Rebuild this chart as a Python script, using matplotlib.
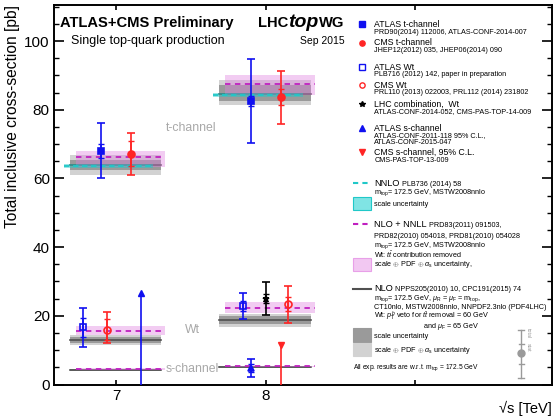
import matplotlib
matplotlib.use("Agg")
import matplotlib.pyplot as plt
from matplotlib.lines import Line2D
from matplotlib.patches import Rectangle
from matplotlib.ticker import MultipleLocator

plt.rcParams['font.family'] = ['Liberation Sans', 'DejaVu Sans']
plt.rcParams['mathtext.fontset'] = 'custom'
plt.rcParams['mathtext.rm'] = 'Liberation Sans'
plt.rcParams['mathtext.it'] = 'Liberation Sans:italic'
plt.rcParams['mathtext.bf'] = 'Liberation Sans:bold'

energies = [7, 8]

# t-channel measurements (pb)
atlas_t = [68.0, 82.5]
atlas_t_stat = [2.0, 1.5]
atlas_t_tot = [8.0, 12.2]
cms_t = [67.2, 83.6]
cms_t_stat = [3.7, 2.3]
cms_t_tot = [6.1, 7.7]

# Wt measurements
atlas_wt = [16.6, 22.8]
atlas_wt_stat = [2.9, 1.5]
atlas_wt_tot = [5.7, 3.8]
cms_wt = [16.0, 23.4]
cms_wt_stat = [3.0, 2.0]
cms_wt_up = [5.0, 5.4]
cms_wt_dn = [4.0, 5.4]
lhc_wt_8 = 25.0
lhc_wt_8_stat = 1.4
lhc_wt_8_tot = 4.7

# s-channel
atlas_s_limit_7 = 26.5
atlas_s_8 = 4.8
atlas_s_8_stat = 1.2
atlas_s_8_tot = 2.5
cms_s_limit_8 = 11.5

# theory: NNLO (t-channel only)
nnlo_t = [63.6, 84.3]
nnlo_t_scale = [0.6, 0.7]

# theory: NLO+NNLL, central / low / high
nnll_t = [66.2, 87.6]
nnll_t_lo = [63.4, 84.4]
nnll_t_hi = [68.0, 90.1]
nnll_wt = [15.5, 22.2]
nnll_wt_lo = [14.3, 20.8]
nnll_wt_hi = [16.9, 23.9]
nnll_s = [4.5, 5.3]
nnll_s_lo = [4.3, 5.1]
nnll_s_hi = [4.7, 5.5]

# theory: NLO, central / scale band / total band
nlo_t = [63.8, 84.5]
nlo_t_scale_lo = [62.4, 82.5]
nlo_t_scale_hi = [65.5, 87.2]
nlo_t_tot_lo = [61.0, 81.3]
nlo_t_tot_hi = [66.8, 88.6]
nlo_wt = [13.0, 18.7]
nlo_wt_scale_lo = [12.2, 17.6]
nlo_wt_scale_hi = [13.8, 19.8]
nlo_wt_tot_lo = [11.5, 16.7]
nlo_wt_tot_hi = [14.4, 20.6]
nlo_s = [4.2, 5.05]
nlo_s_scale_lo = [4.0, 4.85]
nlo_s_scale_hi = [4.4, 5.25]
nlo_s_tot_lo = [3.85, 4.7]
nlo_s_tot_hi = [4.55, 5.4]

BLUE = '#1010f0'
RED = '#ff2525'
CYAN = '#20c8c8'
MAGENTA = '#c020c0'
PINK = '#e080e0'
GRAYTXT = '#a8a8a8'

W, H = 553, 416


def fx(px):
    return px / W


def fy(py):
    return 1 - py / H


fig = plt.figure(figsize=(W / 100, H / 100), dpi=100)
ax = fig.add_axes([fx(54), fy(384.5), (551.7 - 54) / W, (384.5 - 5) / H])
ax.set_xlim(6.586, 9.91)
ax.set_ylim(0, 110.5)

# theory bands
for i, e in enumerate(energies):
    for lo, hi, slo, shi, c in [(nlo_t_tot_lo, nlo_t_tot_hi, nlo_t_scale_lo, nlo_t_scale_hi, nlo_t),
                                (nlo_wt_tot_lo, nlo_wt_tot_hi, nlo_wt_scale_lo, nlo_wt_scale_hi, nlo_wt),
                                (nlo_s_tot_lo, nlo_s_tot_hi, nlo_s_scale_lo, nlo_s_scale_hi, nlo_s)]:
        ax.fill_between([e - 0.31, e + 0.30], lo[i], hi[i], color='#d2d2d2', lw=0, zorder=1)
        ax.fill_between([e - 0.31, e + 0.30], slo[i], shi[i], color='#9a9a9a', lw=0, zorder=1.1)
        ax.plot([e - 0.31, e + 0.30], [c[i], c[i]], color='#505050', lw=1.2, zorder=1.2)
    for lo, hi, c in [(nnll_t_lo, nnll_t_hi, nnll_t), (nnll_wt_lo, nnll_wt_hi, nnll_wt),
                      (nnll_s_lo, nnll_s_hi, nnll_s)]:
        ax.fill_between([e - 0.27, e + 0.33], lo[i], hi[i], color=PINK, alpha=0.4, lw=0, zorder=1.3)
        ax.plot([e - 0.27, e + 0.33], [c[i], c[i]], color=MAGENTA, lw=1.3, dashes=(3, 2.5), zorder=1.4)
    ax.fill_between([e - 0.35, e + 0.25], nnlo_t[i] - nnlo_t_scale[i], nnlo_t[i] + nnlo_t_scale[i],
                    color=CYAN, alpha=0.45, lw=0, zorder=1.5)
    ax.plot([e - 0.35, e + 0.25], [nnlo_t[i], nnlo_t[i]], color=CYAN, lw=1.3, dashes=(3, 2), zorder=1.6)


def meas(x, y, stat, tot, color, marker, filled=True, tot_dn=None):
    dn = tot if tot_dn is None else tot_dn
    mfc = color if filled else 'none'
    ax.errorbar(x, y, yerr=[[dn], [tot]], fmt='none', ecolor=color, elinewidth=1.2,
                capsize=3, capthick=1.2, zorder=3)
    ax.errorbar(x, y, yerr=stat, fmt='none', ecolor=color, elinewidth=1.2,
                capsize=2.5, capthick=1.0, zorder=3)
    ax.plot(x, y, marker=marker, color=color, mfc=mfc, mec=color, mew=1.2, ms=5, ls='none', zorder=4)


# measurements
for i, e in enumerate(energies):
    meas(e - 0.10, atlas_t[i], atlas_t_stat[i], atlas_t_tot[i], BLUE, 's')
    meas(e + 0.10, cms_t[i], cms_t_stat[i], cms_t_tot[i], RED, 'o')

meas(6.78, atlas_wt[0], atlas_wt_stat[0], atlas_wt_tot[0], BLUE, 's', filled=False)
meas(6.94, cms_wt[0], cms_wt_stat[0], cms_wt_up[0], RED, 'o', filled=False, tot_dn=cms_wt_dn[0])
meas(7.85, atlas_wt[1], atlas_wt_stat[1], atlas_wt_tot[1], BLUE, 's', filled=False)
meas(8.15, cms_wt[1], cms_wt_stat[1], cms_wt_up[1], RED, 'o', filled=False, tot_dn=cms_wt_dn[1])
meas(8.00, lhc_wt_8, lhc_wt_8_stat, lhc_wt_8_tot, 'black', '*')
meas(7.90, atlas_s_8, atlas_s_8_stat, atlas_s_8_tot, BLUE, '^')

# s-channel upper limits
ax.plot([7.17, 7.17], [0, atlas_s_limit_7], color=BLUE, lw=1.2, zorder=3)
ax.plot(7.17, atlas_s_limit_7, marker='^', color=BLUE, ms=4, zorder=4)
ax.plot([8.10, 8.10], [0, cms_s_limit_8], color=RED, lw=1.2, zorder=3)
ax.plot(8.10, cms_s_limit_8, marker='v', color=RED, ms=4, zorder=4)

# channel labels
ax.text(7.33, 74.7, 't-channel', color=GRAYTXT, fontsize=8.8, va='center')
ax.text(7.46, 15.9, 'Wt', color=GRAYTXT, fontsize=8.8, va='center')
ax.text(7.33, 4.6, 's-channel', color=GRAYTXT, fontsize=8.8, va='center')

# axes styling
ax.set_xticks([7, 8, 9])
ax.set_xticklabels(['7', '8', ''])
ax.yaxis.set_major_locator(MultipleLocator(20))
ax.yaxis.set_minor_locator(MultipleLocator(5))
ax.tick_params(axis='x', direction='in', top=True, length=3.5, width=1.2, labelsize=11, pad=3)
ax.tick_params(axis='y', which='major', direction='in', right=True, length=7.5, width=1.2,
               labelsize=11, pad=3)
ax.tick_params(axis='y', which='minor', direction='in', right=True, length=3.5, width=1.0)
for sp in ax.spines.values():
    sp.set_linewidth(1.4)
ax.set_ylabel('Total inclusive cross-section [pb]', fontsize=11.2, loc='top')
ax.yaxis.set_label_coords(-0.068, 1.0)
fig.text(fx(551.7), fy(408), '\u221as [TeV]', fontsize=10.5, ha='right', va='center')

# header
fig.text(fx(60), fy(27), 'ATLAS+CMS Preliminary', fontsize=10.6, weight='bold', va='baseline')
fig.text(fx(258), fy(27), 'LHC', fontsize=10.6, weight='bold', va='baseline')
fig.text(fx(288.5), fy(27), 'top', fontsize=14, weight='bold', style='italic', va='baseline')
fig.text(fx(319), fy(27), 'WG', fontsize=10.6, weight='bold', va='baseline')
fig.text(fx(71), fy(41), 'Single top-quark production', fontsize=9, va='center')
fig.text(fx(345), fy(41), 'Sep 2015', fontsize=7.5, va='center', ha='right')

# legend: experiments
MX, TX = 361.7, 374.3
BIG, SMALL = 6.3, 5.2
exp_rows = [
    ('s', BLUE, True, 24.3, 'ATLAS t-channel', ['PRD90(2014) 112006, ATLAS-CONF-2014-007']),
    ('o', RED, True, 42.7, 'CMS t-channel', ['JHEP12(2012) 035, JHEP06(2014) 090']),
    ('s', BLUE, False, 67.0, 'ATLAS Wt', ['PLB716 (2012) 142, paper in preparation']),
    ('o', RED, False, 85.0, 'CMS Wt', ['PRL110 (2013) 022003, PRL112 (2014) 231802']),
    ('*', 'black', True, 104.0, 'LHC combination,  Wt', ['ATLAS-CONF-2014-052, CMS-PAS-TOP-14-009']),
    ('^', BLUE, True, 128.3, 'ATLAS s-channel', ['ATLAS-CONF-2011-118 95% C.L.,', 'ATLAS-CONF-2015-047']),
    ('v', RED, True, 152.3, 'CMS s-channel, 95% C.L.', ['CMS-PAS-TOP-13-009']),
]
for mk, c, filled, y, title, subs in exp_rows:
    fig.add_artist(Line2D([fx(MX)], [fy(y)], marker=mk, color=c, mfc=c if filled else 'none',
                          mec=c, mew=1.0, ms=3.8 if mk != '*' else 4, ls='none'))
    fig.text(fx(TX), fy(y), title, fontsize=BIG, va='center')
    sy = y + 7.7
    for s in subs:
        fig.text(fx(TX), fy(sy), s, fontsize=SMALL, va='center')
        sy += 6.8

# legend: theory
mtop = r'm$_{\rm top}$= 172.5 GeV, '
unc = r'scale $\oplus$ PDF $\oplus$ $\alpha_{\rm s}$ uncertainty'


def key_line(y, color, style):
    if style == 'solid':
        fig.add_artist(Line2D([fx(352.7), fx(370.7)], [fy(y), fy(y)], color=color, lw=1.5))
    else:
        fig.add_artist(Line2D([fx(352.7), fx(370.7)], [fy(y), fy(y)], color=color, lw=1.5,
                              dashes=(2.5, 2)))


def key_box(y0, y1, face, edge):
    fig.add_artist(Rectangle((fx(352.7), fy(y1)), (370.7 - 352.7) / W, (y1 - y0) / H,
                             facecolor=face, edgecolor=edge, lw=0.8, transform=fig.transFigure))


def head(y, name, ref):
    t = fig.text(fx(TX), fy(y), name, fontsize=6.6, va='center')
    ax.annotate(ref, xy=(1, 0), xycoords=t, fontsize=SMALL, va='bottom', annotation_clip=False)


key_line(183, CYAN, 'dash')
head(183, 'NNLO', ' PLB736 (2014) 58')
fig.text(fx(TX), fy(192.7), mtop + 'MSTW2008nnlo', fontsize=SMALL, va='center')
key_box(196.7, 210, '#80e4e4', CYAN)
fig.text(fx(TX), fy(204.3), 'scale uncertainty', fontsize=SMALL, va='center')

key_line(224.3, MAGENTA, 'dash')
head(224.3, 'NLO + NNLL', ' PRD83(2011) 091503,')
fig.text(fx(TX), fy(236.7), 'PRD82(2010) 054018, PRD81(2010) 054028', fontsize=SMALL, va='center')
fig.text(fx(TX), fy(246), mtop + 'MSTW2008nnlo', fontsize=SMALL, va='center')
fig.text(fx(TX), fy(255.3), r'Wt: $t\bar{t}$ contribution removed', fontsize=SMALL, va='center')
key_box(257.7, 270.7, '#f2c8f2', '#e8a0e8')
fig.text(fx(TX), fy(265), unc + ',', fontsize=SMALL, va='center')

key_line(288.7, '#505050', 'solid')
head(288.7, 'NLO', ' NPPS205(2010) 10, CPC191(2015) 74')
fig.text(fx(TX), fy(298.3), mtop + r'$\mu_{\rm R}$ = $\mu_{\rm F}$ = m$_{\rm top}$,',
         fontsize=SMALL, va='center')
fig.text(fx(TX), fy(307.3), 'CT10nlo, MSTW2008nnlo, NNPDF2.3nlo (PDF4LHC)', fontsize=SMALL, va='center')
fig.text(fx(TX), fy(316), r'Wt: $p_{\rm T}^{b}$ veto for $t\bar{t}$ removal = 60 GeV',
         fontsize=SMALL, va='center')
fig.text(fx(422.7), fy(327), r'and $\mu_{\rm F}$ = 65 GeV', fontsize=SMALL, va='center')
key_box(328.3, 341.7, '#9a9a9a', '#9a9a9a')
fig.text(fx(TX), fy(336), 'scale uncertainty', fontsize=SMALL, va='center')
key_box(343.3, 355.7, '#d2d2d2', '#d2d2d2')
fig.text(fx(TX), fy(350.7), unc, fontsize=SMALL, va='center')
fig.text(fx(352.7), fy(367.3), 'All exp. results are w.r.t. m$_{\\rm top}$ = 172.5 GeV',
         fontsize=4.8, va='center')

# example error bar key
GK = '#9a9a9a'
fig.add_artist(Line2D([fx(521), fx(521)], [fy(330), fy(378)], color=GK, lw=1.0))
for yy, hw in [(330, 3), (378, 3), (344, 2.5), (364, 2.5)]:
    fig.add_artist(Line2D([fx(521 - hw), fx(521 + hw)], [fy(yy), fy(yy)], color=GK, lw=1.0))
fig.add_artist(Line2D([fx(521)], [fy(353.3)], marker='o', color=GK, ms=5, ls='none'))
fig.text(fx(528), fy(333), 'total', fontsize=3.8, color=GK, rotation=270, ha='center', va='center')
fig.text(fx(528), fy(347), 'stat', fontsize=3.8, color=GK, rotation=270, ha='center', va='center')

fig.savefig('out.png', dpi=100)
